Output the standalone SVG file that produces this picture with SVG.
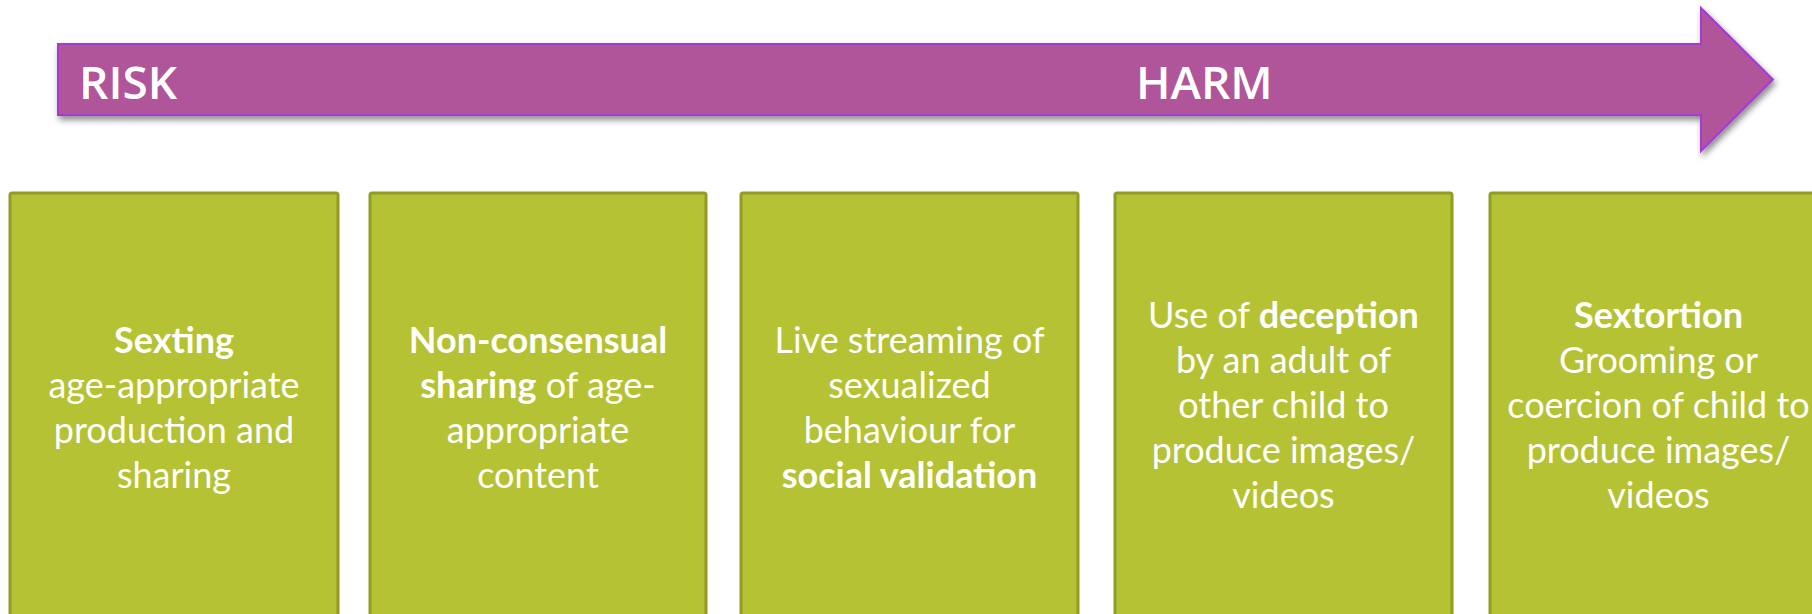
<svg xmlns="http://www.w3.org/2000/svg" width="1812" height="614" viewBox="0 0 1812 614">
<defs>
<filter id="sh" x="-5%" y="-20%" width="110%" height="150%">
<feDropShadow dx="2" dy="4" stdDeviation="3" flood-color="#000" flood-opacity="0.45"/>
</filter>
<style>
.box{fill:#B4C234;stroke:#909C26;stroke-width:3}
.t{font-family:Lato,"Liberation Sans",sans-serif;font-size:36px;fill:#fff;text-anchor:middle}
.b{font-weight:bold}
.lbl{font-family:"Open Sans","Liberation Sans",sans-serif;font-weight:600;font-size:46px;fill:#fff}
</style>
</defs>
<g id="arrow">
<path d="M58,44 H1701 V8 L1773,79.5 L1701,151 V115 H58 Z" fill="#B0559A" stroke="#A63BD4" stroke-width="2" filter="url(#sh)"/>
<text class="lbl" x="79" y="99">RISK</text>
<text class="lbl" x="1136" y="99">HARM</text>
</g>
<g id="connectors"></g>
<g id="n1">
<rect class="box" x="10" y="193" width="328" height="440" rx="2"/>
<text class="t" x="174" y="353"><tspan class="b">Sexting</tspan><tspan x="174" dy="45">age-appropriate</tspan><tspan x="174" dy="45">production and</tspan><tspan x="174" dy="45">sharing</tspan></text>
</g>
<g id="n2">
<rect class="box" x="370" y="193" width="336" height="440" rx="2"/>
<text class="t" x="538" y="353"><tspan class="b">Non-consensual</tspan><tspan x="538" dy="45"><tspan class="b">sharing</tspan> of age-</tspan><tspan x="538" dy="45">appropriate</tspan><tspan x="538" dy="45">content</tspan></text>
</g>
<g id="n3">
<rect class="box" x="741" y="193" width="337" height="440" rx="2"/>
<text class="t" x="909.5" y="353"><tspan>Live streaming of</tspan><tspan x="909.5" dy="45">sexualized</tspan><tspan x="909.5" dy="45">behaviour for</tspan><tspan x="909.5" dy="45" class="b">social validation</tspan></text>
</g>
<g id="n4">
<rect class="box" x="1115" y="193" width="337" height="440" rx="2"/>
<text class="t" x="1283.5" y="328"><tspan>Use of <tspan class="b">deception</tspan></tspan><tspan x="1283.5" dy="45">by an adult of</tspan><tspan x="1283.5" dy="45">other child to</tspan><tspan x="1283.5" dy="45">produce images/</tspan><tspan x="1283.5" dy="45">videos</tspan></text>
</g>
<g id="n5">
<rect class="box" x="1490" y="193" width="337" height="440" rx="2"/>
<text class="t" x="1658.5" y="328"><tspan class="b">Sextortion</tspan><tspan x="1658.5" dy="45">Grooming or</tspan><tspan x="1658.5" dy="45">coercion of child to</tspan><tspan x="1658.5" dy="45">produce images/</tspan><tspan x="1658.5" dy="45">videos</tspan></text>
</g>
</svg>
